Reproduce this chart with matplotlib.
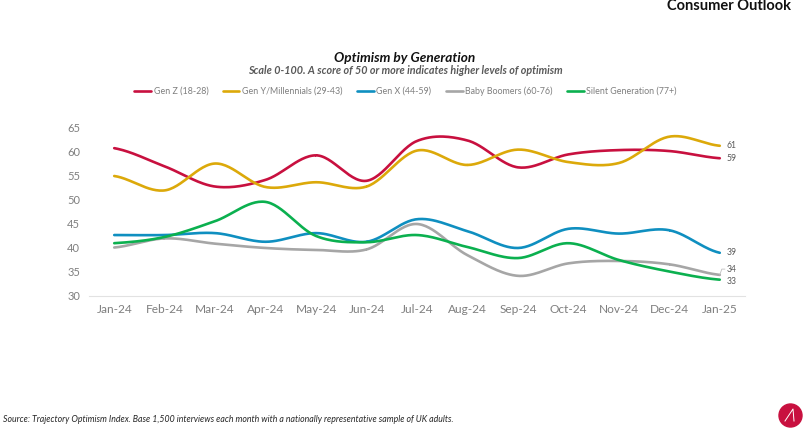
import matplotlib
matplotlib.use("Agg")
import matplotlib.pyplot as plt
import numpy as np
from matplotlib.patches import Circle

plt.rcParams['font.family'] = ['Lato', 'DejaVu Sans']

months = ["Jan-24","Feb-24","Mar-24","Apr-24","May-24","Jun-24","Jul-24","Aug-24","Sep-24","Oct-24","Nov-24","Dec-24","Jan-25"]
gen_z = [60.8,57.0,52.8,54.2,59.3,54.0,62.3,62.4,56.8,59.5,60.4,60.2,58.7]
gen_y = [55.0,52.0,57.6,52.7,53.7,52.8,60.3,57.3,60.5,57.9,57.7,63.2,61.3]
gen_x = [42.7,42.7,43.1,41.3,43.1,41.3,46.0,43.5,40.0,44.0,43.0,43.7,39.0]
boomers = [40.1,42.0,40.9,40.0,39.6,39.7,45.0,38.5,34.2,36.8,37.3,36.6,34.4]
silent = [41.0,42.3,45.6,49.6,42.5,41.2,42.7,40.2,37.9,41.0,37.5,35.1,33.4]
end_labels = ["59","61","39","34","33"]
names = ["Gen Z (18-28)","Gen Y/Millennials (29-43)","Gen X (44-59)","Baby Boomers (60-76)","Silent Generation (77+)"]
cols = ["#c8103f","#dca90a","#0f8fc0","#a6a6a6","#0bb04f"]
W, H = 807, 428


# excel style smoothed line (catmull-rom between the monthly values)
def smooth(y, n=30):
    y = np.array(y, dtype=float)
    p = np.concatenate([[y[0]], y, [y[-1]]])
    xs, ys = [], []
    for i in range(len(y) - 1):
        t = np.linspace(0, 1, n)
        p0, p1, p2, p3 = p[i], p[i+1], p[i+2], p[i+3]
        v = 0.5*(2*p1 + (p2-p0)*t + (2*p0-5*p1+4*p2-p3)*t**2 + (3*p1-p0-3*p2+p3)*t**3)
        xs.append(i + t)
        ys.append(v)
    return np.concatenate(xs), np.concatenate(ys)


fig = plt.figure(figsize=(W/100, H/100), dpi=100)
top_px, bot_px = 118.4, 296
ax = fig.add_axes([89/W, 1-bot_px/H, (745-89)/W, (bot_px-top_px)/H])

series = [gen_z, gen_y, gen_x, boomers, silent]
handles = []
for s, c, nm in zip(series, cols, names):
    xs, ys = smooth(s)
    handles += ax.plot(xs, ys, color=c, lw=1.9, label=nm, solid_capstyle='round')

ax.set_xlim(-0.5, 12.5)
ax.set_ylim(30, 67)
ax.set_yticks([30,35,40,45,50,55,60,65])
ax.set_xticks(range(13))
ax.set_xticklabels(months)
ax.tick_params(length=0, labelsize=8.6, labelcolor="#7f7f7f", pad=6)
ax.tick_params(axis='y', labelsize=8, pad=6.5)
for k in ['top','right','left']:
    ax.spines[k].set_visible(False)
ax.spines['bottom'].set_color("#e2e2e2")
ax.spines['bottom'].set_linewidth(0.8)

# end of line values
label_y = [58.7,61.3,39.0,35.6,33.0]
for t, v in zip(end_labels, label_y):
    ax.text(12.14, v, t, fontsize=6.2, color="#595959", va='center', ha='left')
ax.plot([12.0,12.04,12.1],[34.4,35.6,35.6], color="#bfbfbf", lw=0.6)

fig.legend(handles=handles, loc='center', bbox_to_anchor=(405.5/W, 1-91/H),
           ncol=5, frameon=False, fontsize=6.4, labelcolor="#7f7f7f", handlelength=1.9,
           handletextpad=0.3, columnspacing=1.6, borderpad=0, borderaxespad=0)

fig.text(405/W, 1-58/H, "Optimism by Generation", fontsize=9.8, fontstyle='italic', fontweight='bold',
         ha='center', va='center', color="#111111")
fig.text(405/W, 1-71/H, "Scale 0-100. A score of 50 or more indicates higher levels of optimism", fontsize=7.75,
         fontstyle='italic', fontweight='bold', ha='center', va='center', color="#595959")
fig.text(791/W, 1-6/H, "Consumer Outlook", fontsize=10.5, fontweight='bold', ha='right', va='center', color="#111111")
fig.text(3/W, 1-420/H, "Source: Trajectory Optimism Index. Base 1,500 interviews each month with a nationally representative sample of UK adults.",
         fontsize=6.3, fontstyle='italic', ha='left', va='center', color="#262626")

# logo bottom right
over = fig.add_axes([0,0,1,1])
over.set_xlim(0,W)
over.set_ylim(H,0)
over.axis('off')
over.patch.set_alpha(0)
over.add_patch(Circle((790.5,415.5), 11.5, color="#c8103f"))
over.plot([785,793,794],[421,409,421], color="white", lw=0.7)

fig.savefig("out.png", dpi=100)
